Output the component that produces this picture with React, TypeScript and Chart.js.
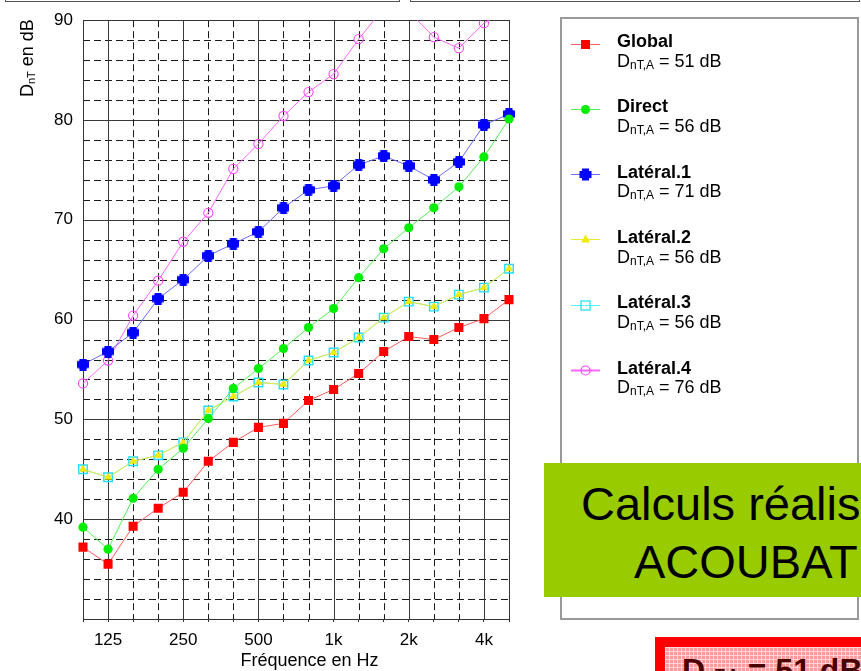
import React, { useEffect, useRef } from 'react';
import { Chart, registerables } from 'chart.js';

Chart.register(...registerables);

// ---------- data ----------
const FREQS = ['100', '125', '160', '200', '250', '315', '400', '500', '630', '800', '1000', '1250', '1600', '2000', '2500', '3150', '4000', '5000'];
const X_TICK_LABELS: Record<string, string> = { '125': '125', '250': '250', '500': '500', '1000': '1k', '2000': '2k', '4000': '4k' };
const X_MAJOR = ['100', '125', '250', '500', '1000', '2000', '4000', '5000'];

const GLOBAL = [37.2, 35.5, 39.3, 41.1, 42.7, 45.8, 47.7, 49.2, 49.6, 51.9, 53.0, 54.6, 56.8, 58.3, 58.0, 59.2, 60.1, 62.0];
const DIRECT = [39.2, 37.0, 42.1, 45.0, 47.1, 50.1, 53.1, 55.1, 57.1, 59.2, 61.1, 64.2, 67.1, 69.2, 71.2, 73.3, 76.3, 80.1];
const LATERAL1 = [55.5, 56.8, 58.7, 62.1, 64.0, 66.4, 67.6, 68.8, 71.2, 73.0, 73.4, 75.5, 76.4, 75.4, 74.0, 75.8, 79.5, 80.6];
const LATERAL2 = [45.0, 44.2, 45.8, 46.4, 47.7, 50.9, 52.3, 53.7, 53.5, 55.9, 56.7, 58.2, 60.2, 61.8, 61.3, 62.5, 63.2, 65.1];
const LATERAL3 = [45.0, 44.2, 45.8, 46.4, 47.7, 50.9, 52.3, 53.7, 53.5, 55.9, 56.7, 58.2, 60.2, 61.8, 61.3, 62.5, 63.2, 65.1];
const LATERAL4 = [53.6, 55.9, 60.4, 63.9, 67.8, 70.7, 75.1, 77.6, 80.4, 82.8, 84.6, 88.1, 91.2, 90.9, 88.3, 87.2, 89.7, 91.2];

const SERIES_NAMES = ['Global', 'Direct', 'Latéral.1', 'Latéral.2', 'Latéral.3', 'Latéral.4'];
const DNTA_VALUES = [51, 56, 71, 56, 56, 76];

const Y_MIN = 30;
const Y_MAX = 90;
const Y_STEP = 2;
const Y_MAJOR = 10;
const Y_FIRST_LABEL = 40;

const FONT = "'Liberation Sans', Arial, Helvetica, sans-serif";

// ---------- styles ----------
const LINE_COLORS = ['#ff5a5a', '#55ee55', '#6a6aff', '#e8e830', '#55f0ff', '#ff66ff'];
const MARK_COLORS = ['#ff0000', '#00ee00', '#0000ff', '#eeee00', '#22ddff', '#ff44ff'];

function makePlusMarker(color: string, size: number) {
  const c = document.createElement('canvas');
  c.width = size;
  c.height = size;
  const g = c.getContext('2d')!;
  g.fillStyle = color;
  const arm = Math.round(size * 0.58);
  const o = (size - arm) / 2;
  g.fillRect(o, 0, arm, size);
  g.fillRect(0, o, size, arm);
  g.beginPath();
  g.arc(size / 2, size / 2, size * 0.45, 0, Math.PI * 2);
  g.fill();
  return c;
}

function drawMarker(ctx: CanvasRenderingContext2D, i: number, x: number, y: number) {
  ctx.save();
  ctx.setLineDash([]);
  const col = MARK_COLORS[i];
  ctx.fillStyle = col;
  ctx.strokeStyle = col;
  ctx.lineWidth = 1;
  if (i === 0) {
    ctx.fillRect(x - 4.5, y - 4.5, 9, 9);
  } else if (i === 1) {
    ctx.beginPath();
    ctx.arc(x, y, 4.5, 0, Math.PI * 2);
    ctx.fill();
  } else if (i === 2) {
    const s = 12, arm = 7, o = (s - arm) / 2;
    ctx.fillRect(x - s / 2 + o, y - s / 2, arm, s);
    ctx.fillRect(x - s / 2, y - s / 2 + o, s, arm);
    ctx.beginPath();
    ctx.arc(x, y, s * 0.45, 0, Math.PI * 2);
    ctx.fill();
  } else if (i === 3) {
    ctx.beginPath();
    ctx.moveTo(x, y - 5);
    ctx.lineTo(x + 4.5, y + 3);
    ctx.lineTo(x - 4.5, y + 3);
    ctx.closePath();
    ctx.fill();
  } else if (i === 4) {
    ctx.lineWidth = 1.4;
    ctx.strokeStyle = '#33e6f0';
    ctx.strokeRect(x - 4.5, y - 4.5, 9, 9);
  } else {
    ctx.lineWidth = 1.2;
    ctx.beginPath();
    ctx.arc(x, y, 4.5, 0, Math.PI * 2);
    ctx.stroke();
  }
  ctx.restore();
}

const gridPlugin = {
  id: 'customGrid',
  beforeDatasetsDraw(chart: any) {
    const { ctx, chartArea: a, scales } = chart;
    const xs = scales.x;
    const ys = scales.y;
    ctx.save();
    ctx.lineWidth = 1;
    for (let v = Y_MIN + Y_STEP; v < Y_MAX; v += Y_STEP) {
      const py = Math.round(ys.getPixelForValue(v)) + 0.5;
      const major = v % Y_MAJOR === 0;
      ctx.strokeStyle = major ? '#3a3a3a' : '#1a1a1a';
      ctx.setLineDash(major ? [] : [7, 4]);
      ctx.beginPath();
      ctx.moveTo(a.left, py);
      ctx.lineTo(a.right, py);
      ctx.stroke();
    }
    FREQS.forEach((f, i) => {
      if (i === 0 || i === FREQS.length - 1) return;
      const px = Math.round(xs.getPixelForValue(i)) + 0.5;
      const major = X_MAJOR.includes(f);
      ctx.strokeStyle = major ? '#3a3a3a' : '#1a1a1a';
      ctx.setLineDash(major ? [] : [7, 4]);
      ctx.beginPath();
      ctx.moveTo(px, a.top);
      ctx.lineTo(px, a.bottom);
      ctx.stroke();
    });
    ctx.setLineDash([]);
    ctx.strokeStyle = '#333';
    ctx.strokeRect(Math.round(a.left) + 0.5, Math.round(a.top) + 0.5, Math.round(a.right - a.left), Math.round(a.bottom - a.top));
    ctx.restore();
  },
  afterDraw(chart: any) {
    const { ctx } = chart;
    ctx.save();
    ctx.fillStyle = '#000';
    ctx.save();
    ctx.translate(33, 97);
    ctx.rotate(-Math.PI / 2);
    ctx.textBaseline = 'alphabetic';
    ctx.textAlign = 'left';
    ctx.font = `18px ${FONT}`;
    ctx.fillText('D', 0, 0);
    let w = ctx.measureText('D').width;
    ctx.font = `11px ${FONT}`;
    ctx.fillText('nT', w, 1.5);
    w += ctx.measureText('nT').width;
    ctx.font = `18px ${FONT}`;
    ctx.fillText(' en dB', w, 0);
    ctx.restore();
    ctx.font = `18px ${FONT}`;
    ctx.textAlign = 'center';
    ctx.textBaseline = 'alphabetic';
    ctx.fillText('Fréquence en Hz', 309.5, 666);

    ctx.strokeStyle = '#999';
    ctx.lineWidth = 2;
    ctx.strokeRect(561, 18, 297, 601);
    ctx.textAlign = 'left';
    SERIES_NAMES.forEach((name, i) => {
      const by = 47 + i * 65.3;
      const my = by - 3.5;
      ctx.strokeStyle = LINE_COLORS[i];
      ctx.lineWidth = i === 5 ? 2 : 1;
      ctx.beginPath();
      ctx.moveTo(571, Math.round(my) + 0.5);
      ctx.lineTo(600, Math.round(my) + 0.5);
      ctx.stroke();
      drawMarker(ctx, i, 585.5, Math.round(my) + 0.5);
      ctx.fillStyle = '#000';
      ctx.font = `bold 18px ${FONT}`;
      ctx.fillText(name, 617, by);
      const b2 = by + 19.7;
      ctx.font = `18px ${FONT}`;
      ctx.fillText('D', 617, b2);
      let ww = ctx.measureText('D').width;
      ctx.font = `12px ${FONT}`;
      ctx.fillText('nT,A', 617 + ww, b2 + 2);
      ww += ctx.measureText('nT,A').width;
      ctx.font = `18px ${FONT}`;
      ctx.fillText(` = ${DNTA_VALUES[i]} dB`, 617 + ww, b2);
    });
    ctx.restore();
  },
};

export default function App() {
  const canvasRef = useRef<HTMLCanvasElement | null>(null);

  useEffect(() => {
    const canvas = canvasRef.current;
    if (!canvas) return;
    Chart.defaults.font.family = FONT;
    const plus = makePlusMarker(MARK_COLORS[2], 12);
    const series = [GLOBAL, DIRECT, LATERAL1, LATERAL2, LATERAL3, LATERAL4];
    const styles: any[] = [
      { pointStyle: 'rect', pointRadius: 6.4, pointBackgroundColor: MARK_COLORS[0], pointBorderColor: MARK_COLORS[0], pointBorderWidth: 0 },
      { pointStyle: 'circle', pointRadius: 4.6, pointBackgroundColor: MARK_COLORS[1], pointBorderColor: MARK_COLORS[1], pointBorderWidth: 0 },
      { pointStyle: plus, pointRadius: 6 },
      { pointStyle: 'triangle', pointRadius: 4.2, pointBackgroundColor: MARK_COLORS[3], pointBorderColor: '#dddd00', pointBorderWidth: 0.5 },
      { pointStyle: 'rect', pointRadius: 6, pointBackgroundColor: 'rgba(0,0,0,0)', pointBorderColor: MARK_COLORS[4], pointBorderWidth: 1.4 },
      { pointStyle: 'circle', pointRadius: 4.6, pointBackgroundColor: 'rgba(0,0,0,0)', pointBorderColor: MARK_COLORS[5], pointBorderWidth: 1.1 },
    ];
    const datasets = series.map((d, i) => ({
      label: SERIES_NAMES[i],
      data: d,
      borderColor: LINE_COLORS[i],
      borderWidth: 1,
      tension: 0,
      fill: false,
      clip: { left: 12, right: 12, top: 0, bottom: 12 },
      ...styles[i],
    }));

    const chart = new Chart(canvas, {
      type: 'line',
      data: { labels: FREQS, datasets },
      options: {
        animation: false,
        responsive: false,
        maintainAspectRatio: false,
        layout: { padding: { left: 0, top: 17, right: 352, bottom: 0 } },
        plugins: { legend: { display: false }, tooltip: { enabled: false } },
        scales: {
          x: {
            type: 'category',
            offset: false,
            grid: { drawOnChartArea: false, drawTicks: true, tickLength: 3, color: '#333' },
            border: { display: false },
            ticks: {
              autoSkip: false,
              maxRotation: 0,
              minRotation: 0,
              padding: 8,
              color: '#000',
              font: { size: 17, family: FONT },
              callback: (_v: any, i: number) => X_TICK_LABELS[FREQS[i]] ?? '',
            },
            afterFit: (s: any) => { s.height = 52; },
          },
          y: {
            type: 'linear',
            min: Y_MIN,
            max: Y_MAX,
            grid: { display: false, drawTicks: false },
            border: { display: false },
            ticks: {
              stepSize: Y_STEP,
              autoSkip: false,
              padding: 10,
              color: '#000',
              font: { size: 17, family: FONT },
              callback: (v: any) => (v % Y_MAJOR === 0 && v >= Y_FIRST_LABEL ? String(v) : ''),
            },
            afterFit: (s: any) => { s.width = 83; },
          },
        },
      } as any,
      plugins: [gridPlugin],
    });
    return () => chart.destroy();
  }, []);

  return (
    <div style={{ position: 'absolute', left: 0, top: 0, width: 861, height: 671, overflow: 'hidden', background: '#fff', fontFamily: FONT }}>
      <canvas ref={canvasRef} width={861} height={671} style={{ position: 'absolute', left: 0, top: 0, width: 861, height: 671 }} />
      <div style={{ position: 'absolute', left: 5, top: -18, width: 393, height: 18, border: '1px solid #555' }} />
      <div style={{ position: 'absolute', left: 410, top: -18, width: 448, height: 18, border: '1px solid #555' }} />
      <div style={{ position: 'absolute', left: 544, top: 463, width: 317, height: 134, background: '#99cc00', overflow: 'hidden', color: '#000' }}>
        <span style={{ position: 'absolute', left: 37, top: 17, fontSize: 47, lineHeight: '47px', whiteSpace: 'nowrap' }}>Calculs réalisés avec</span>
        <span style={{ position: 'absolute', left: 90, top: 75, fontSize: 47, lineHeight: '47px', whiteSpace: 'nowrap' }}>ACOUBAT Sound</span>
      </div>
      <div
        style={{
          position: 'absolute', left: 655, top: 637, width: 240, height: 60,
          borderTop: '10px solid #ff0000', borderLeft: '10px solid #ff0000',
          backgroundColor: '#ff9a9a',
          backgroundImage: 'linear-gradient(#ffd6d6 1px, transparent 1px), linear-gradient(90deg, #ffd6d6 1px, transparent 1px)',
          backgroundSize: '4px 4px',
          overflow: 'hidden',
        }}
      >
        <span style={{ position: 'absolute', left: 17, top: 7, fontSize: 32, lineHeight: '32px', fontWeight: 'bold', color: '#4a0000', whiteSpace: 'nowrap' }}>
          D<span style={{ fontSize: 16 }}>nT,A</span> = 51 dB
        </span>
      </div>
    </div>
  );
}
